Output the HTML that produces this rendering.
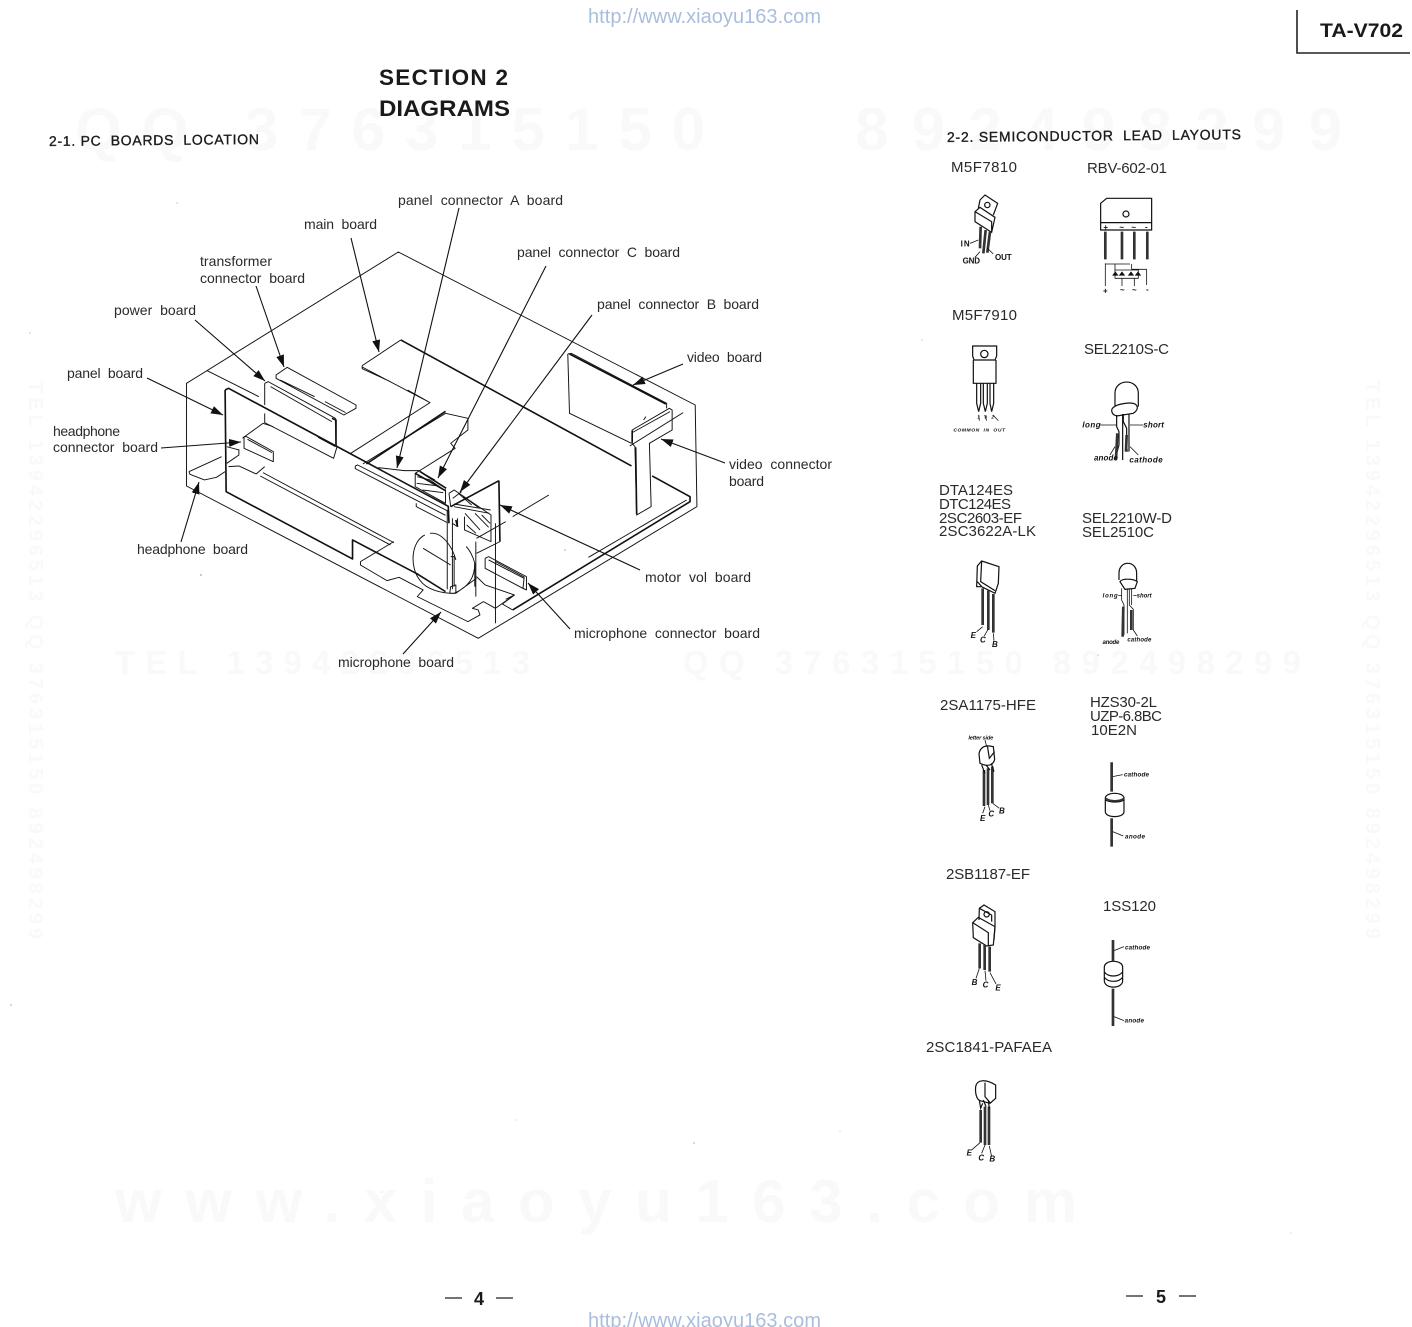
<!DOCTYPE html>
<html><head><meta charset="utf-8"><style>
html,body{margin:0;padding:0;background:#fff}
svg{display:block}
text{font-family:"Liberation Sans",sans-serif;fill:#222;white-space:pre}
.wm{font-weight:bold;fill:#f9f9f9}
.l{font-size:14px;fill:#2a2a2a}
.p{font-size:15px;fill:#2a2a2a}
.h{font-weight:bold;fill:#1a1a1a}
.u{font-size:20px;fill:#a9bedd}
.t{font-size:24px;font-weight:bold;font-style:italic;fill:#111}
.a line{stroke:#111;stroke-width:1.1;marker-end:url(#ar)}
.d path{fill:none;stroke:#111;stroke-width:2.8;stroke-linejoin:round}
.d .k{stroke-width:4.8}
.d .n{stroke-width:2.2}
.c path,.c ellipse,.c circle,.c rect{fill:none;stroke:#111;stroke-width:3.6}
.c .k{stroke-width:8;stroke:#333}
.c .n{stroke-width:2.4}
.b{filter:blur(.3px)}
</style></head><body>
<svg xmlns="http://www.w3.org/2000/svg" width="1412" height="1327" viewBox="0 0 1412 1327">
<defs><marker id="ar" markerUnits="userSpaceOnUse" markerWidth="14" markerHeight="10" refX="12" refY="4" orient="auto"><path d="M0,0 L12,4 L0,8 Z" fill="#111"/></marker></defs>
<rect width="1412" height="1327" fill="#fff"/>

<!-- watermarks -->
<text class="wm" x="75" y="150" font-size="60" textLength="630">QQ 376315150</text>
<text class="wm" x="855" y="150" font-size="60" textLength="487">892498299</text>
<text class="wm" x="115" y="674" font-size="33" textLength="415">TEL 13942296513</text>
<text class="wm" x="683" y="674" font-size="33" textLength="618">QQ 376315150 892498299</text>
<text class="wm" x="115" y="1222" font-size="60" textLength="962">www.xiaoyu163.com</text>
<text class="wm" transform="translate(29,381) rotate(90)" font-size="20" textLength="558">TEL 13942296513 QQ 376315150 892498299</text>
<text class="wm" transform="translate(1366,381) rotate(90)" font-size="20" textLength="558">TEL 13942296513 QQ 376315150 892498299</text>

<text class="u" x="588" y="23" textLength="233">http://www.xiaoyu163.com</text>
<text class="u" x="588" y="1327" textLength="233">http://www.xiaoyu163.com</text>

<path d="M1297,10 V53 H1410" fill="none" stroke="#222" stroke-width="1.6"/>
<text class="h" x="1320" y="37" font-size="19" textLength="83" lengthAdjust="spacingAndGlyphs">TA-V702</text>
<text class="h" x="379" y="85" font-size="22.5" textLength="129">SECTION 2</text>
<text class="h" x="379" y="116" font-size="22.5" textLength="131" lengthAdjust="spacingAndGlyphs">DIAGRAMS</text>
<text class="h" style="font-weight:normal;stroke:#222;stroke-width:.35" font-size="14" transform="translate(49,146) rotate(-.55)" textLength="210">2-1. PC  BOARDS  LOCATION</text>
<text class="h" style="font-weight:normal;stroke:#222;stroke-width:.35" font-size="14" transform="translate(947,142) rotate(-.55)" textLength="294">2-2. SEMICONDUCTOR  LEAD  LAYOUTS</text>

<!-- leader labels -->
<text class="l" x="398" y="205" textLength="165">panel  connector  A  board</text>
<text class="l" x="304" y="229" textLength="73">main  board</text>
<text class="l" x="517" y="257" textLength="163">panel  connector  C  board</text>
<text class="l" x="200" y="266" textLength="72">transformer</text>
<text class="l" x="200" y="283" textLength="105">connector  board</text>
<text class="l" x="114" y="315" textLength="82">power  board</text>
<text class="l" x="597" y="309" textLength="162">panel  connector  B  board</text>
<text class="l" x="687" y="362" textLength="75">video  board</text>
<text class="l" x="67" y="378" textLength="76">panel  board</text>
<text class="l" x="53" y="436" textLength="67">headphone</text>
<text class="l" x="53" y="452" textLength="105">connector  board</text>
<text class="l" x="729" y="469" textLength="103">video  connector</text>
<text class="l" x="729" y="486" textLength="35">board</text>
<text class="l" x="137" y="554" textLength="111">headphone  board</text>
<text class="l" x="645" y="582" textLength="106">motor  vol  board</text>
<text class="l" x="574" y="638" textLength="186">microphone  connector  board</text>
<text class="l" x="338" y="667" textLength="116">microphone  board</text>

<!-- main drawing, coordinates in crop space -->
<g class="d b" transform="translate(170,240) scale(.3444,.3333)">
<!-- outer cabinet -->
<path d="M48,430 L663,36 L1525,495 L1530,800 L895,1195 L48,738 Z M108,392 L258,470"/>
<!-- main board -->
<path class="k" d="M670,300 L1340,678 M1400,708 L1510,770 L1510,785 L995,1110"/>
<path d="M558,377 L670,300 M558,377 L558,386 L640,425 M690,450 L755,488 M558,381 L755,488 L525,640 M995,1110 L965,1092 L1000,1065 L975,1078 M1215,952 L1500,780"/>
<!-- video board -->
<path d="M1155,342 L1160,520 L1340,610"/>
<path class="k" d="M1160,342 L1440,492"/>
<path d="M1155,342 L1165,340 L1442,490 L1442,505"/>
<!-- video connector board -->
<path d="M1342,570 L1450,505 L1458,510 L1458,570 L1392,610 L1397,800 L1355,825 L1350,620 L1342,610 Z M1342,578 L1452,515 M1335,618 L1490,518 M1375,540 L1382,530"/>
<path class="k" d="M1342,572 L1342,608 M1352,622 L1355,822"/>
<!-- panel board -->
<path class="k" d="M160,450 L170,445 L810,800 M160,450 L163,755 L530,957 L530,900 L720,1003"/>
<path d="M170,680 L200,678 L250,702 L275,680 M270,698 L650,908 M262,708 L640,915 M200,630 L165,620 M200,628 L200,645 L165,670"/>
<!-- power board -->
<path d="M275,430 L285,425 L480,535 L482,620 M275,430 L275,495 M275,520 L275,548 L475,655 L485,620 M292,440 L470,545"/>
<path class="k" d="M470,535 L482,540 L482,620"/>
<!-- transformer connector -->
<path d="M308,405 L340,382 L540,495 L540,505 L505,525 L308,415 Z M320,420 L420,470 M450,485 L510,518"/>
<!-- headphone connector + board -->
<path d="M215,590 L222,590 L300,635 L300,665 L215,625 Z M225,598 L296,638 M210,595 L270,550 L300,560 M55,695 L150,650 M55,695 L58,703 L100,720 L135,712 L160,695"/>
<!-- panel connector C -->
<path class="k" d="M570,672 L800,514"/>
<path d="M560,672 L800,520 L865,535 L865,570 L815,610 L828,625 L725,692 M430,592 L480,620"/>
<!-- panel connector A wedge -->
<path class="k" d="M725,694 L802,745 M712,700 L800,752"/>
<path d="M605,683 L680,692 L725,692 L712,700 L712,740 L800,790 L800,748"/>
<path d="M538,678 L545,675 L810,815 M538,678 L538,686 L800,826 M715,790 L715,800 L805,848"/>
<!-- panel connector B -->
<path class="k" d="M815,800 L955,722 M955,722 L958,905"/>
<path d="M810,760 L825,750 L932,825 L932,905 L855,870 L855,830 M810,760 L815,800 M958,905 L890,940"/>
<!-- shaft -->
<path d="M805,810 L805,1048 M820,835 L820,1048 M835,835 L835,860 L820,850 M815,950 L825,950 L825,1040 M815,1040 L830,1035 L830,1060 L812,1060 Z M888,905 L888,1070 M945,850 L945,1150 M1100,765 L995,830 M975,845 L890,895 M885,970 L885,1040"/>
<path class="k" d="M808,800 L810,850 M830,840 L835,860"/>
<!-- motor -->
<path d="M740,885 C700,905 695,980 725,1020 C745,1050 790,1060 825,1060 C870,1040 885,1010 885,970 C880,950 870,930 860,920 M755,880 C790,875 820,920 830,960 M735,925 L815,975 M890,1010 L915,1035 L1000,1065 M830,1060 L890,1015"/>
<path class="k" d="M715,1000 L800,1055"/>
<!-- microphone board -->
<path d="M553,965 L650,905 M553,965 L553,975 L630,1022 L665,1012 L735,1050 L718,1070 L865,1145 L900,1125 L895,1110 L878,1105 L910,1085 L945,1105 L1000,1065"/>
<!-- microphone connector -->
<path d="M915,955 L925,950 L1035,1010 L1035,1050 L1025,1045 L1028,1015 L925,960 M915,955 L915,985 L1030,1048 M945,965 L1030,1012"/>
</g>

<!-- hatching, fine crop coordinates -->
<g class="d b" transform="translate(380,430) scale(.3333)">
<path d="M112,140 L150,150 M110,160 L178,168 M128,180 L190,188 M150,150 L190,178 M120,125 L165,150"/>
<path d="M222,222 L332,240 M222,230 L328,250 M218,205 L245,185 M235,190 L275,225 M250,200 L295,232 M255,250 L300,300 M260,285 L288,310 M285,250 L326,292 M305,255 L330,280"/>
</g>

<!-- leaders -->
<g class="a">
<line x1="351" y1="238" x2="379" y2="352"/>
<line x1="459" y1="208" x2="397" y2="468"/>
<line x1="546" y1="266" x2="438" y2="478"/>
<line x1="592" y1="315" x2="460" y2="492"/>
<line x1="683" y1="364" x2="633" y2="385"/>
<line x1="725" y1="463" x2="661" y2="439"/>
<line x1="256" y1="286" x2="284" y2="367"/>
<line x1="195" y1="320" x2="265" y2="381"/>
<line x1="147" y1="378" x2="223" y2="415"/>
<line x1="161" y1="448" x2="241" y2="442"/>
<line x1="181" y1="542" x2="199" y2="482"/>
<line x1="640" y1="570" x2="500" y2="505"/>
<line x1="570" y1="629" x2="528" y2="583"/>
<line x1="403" y1="654" x2="441" y2="612"/>
</g>

<!-- part names -->
<text class="p" x="951" y="172" textLength="66">M5F7810</text>
<text class="p" x="1087" y="173" textLength="80">RBV-602-01</text>
<text class="p" x="952" y="320" textLength="65">M5F7910</text>
<text class="p" x="1084" y="354" textLength="85">SEL2210S-C</text>
<text class="p" x="939" y="495" textLength="74">DTA124ES</text>
<text class="p" x="939" y="509" textLength="72">DTC124ES</text>
<text class="p" x="939" y="523" textLength="83">2SC2603-EF</text>
<text class="p" x="939" y="536" textLength="97">2SC3622A-LK</text>
<text class="p" x="1082" y="523" textLength="90">SEL2210W-D</text>
<text class="p" x="1082" y="537" textLength="72">SEL2510C</text>
<text class="p" x="940" y="710" textLength="96">2SA1175-HFE</text>
<text class="p" x="1090" y="707" textLength="67">HZS30-2L</text>
<text class="p" x="1090" y="721" textLength="72">UZP-6.8BC</text>
<text class="p" x="1091" y="735" textLength="46">10E2N</text>
<text class="p" x="946" y="879" textLength="84">2SB1187-EF</text>
<text class="p" x="1103" y="911" textLength="53">1SS120</text>
<text class="p" x="926" y="1052" textLength="126">2SC1841-PAFAEA</text>

<!-- components group 1 -->
<g class="c b" transform="translate(930,180) scale(.3333)">
<!-- M5F7810 -->
<path d="M150,60 L165,45 L203,70 L190,105 M150,60 L145,85"/><circle cx="172" cy="75" r="8"/>
<path d="M135,95 L150,82 L195,112 L185,157 L135,125 Z M135,95 L185,125 L185,157"/>
<path class="k" d="M152,140 L150,205 M167,150 L160,220 M180,155 L172,218"/>
<path class="n" d="M120,190 L145,180 M150,215 L135,232 M172,205 L190,222"/>
<text class="t" x="92" y="200" style="font-style:normal" textLength="27">IN</text>
<text class="t" x="98" y="250" style="font-style:normal" textLength="52">GND</text>
<text class="t" x="195" y="240" style="font-style:normal" textLength="50">OUT</text>
<!-- RBV -->
<path d="M512,70 L530,55 H665 V150 H512 Z M512,128 H665"/><circle cx="588" cy="102" r="9"/>
<text class="t" x="520" y="150" style="font-style:normal" textLength="14">+</text>
<text class="t" x="568" y="150" style="font-style:normal" textLength="16">~</text>
<text class="t" x="604" y="150" style="font-style:normal" textLength="16">~</text>
<text class="t" x="645" y="148" style="font-style:normal" textLength="10">-</text>
<path class="k" d="M526,155 V238 M576,155 V238 M613,155 V238 M652,155 V238"/>
<path class="n" d="M526,250 V318 M526,252 H600 M555,252 V295 M650,268 V315 M605,268 H650 M576,295 V318 M613,295 V318 M555,270 H625 V295 H555 M605,252 V270"/>
<path d="M550,285 h12 l-6,-8 Z M570,285 h12 l-6,-8 Z M597,285 h12 l-6,-8 Z M618,285 h12 l-6,-8 Z" style="fill:#111"/>
<text class="t" x="519" y="340" style="font-style:normal" textLength="15">+</text>
<text class="t" x="570" y="338" style="font-style:normal" textLength="15">~</text>
<text class="t" x="606" y="338" style="font-style:normal" textLength="15">~</text>
<text class="t" x="648" y="336" style="font-style:normal" textLength="8">-</text>
<!-- M5F7910 -->
<path d="M128,498 H200 V528 L195,540 H132 L128,528 Z M130,540 V610 H198 V540"/><circle cx="163" cy="522" r="11"/>
<path d="M140,610 V670 L146,695 L152,670 V610 M160,610 V670 L166,695 L172,670 V610 M180,610 V670 L185,695 L191,670 V610"/>
<path class="n" d="M146,705 L148,722 M164,705 L170,722 M189,705 L205,722"/>
<text x="70" y="755" font-size="15" font-weight="bold" font-style="italic" textLength="155" style="fill:#111">COMMON  IN  OUT</text>
<text x="142" y="715" font-size="14" font-weight="bold" font-style="italic" textLength="50" style="fill:#111">1 3 2</text>
<!-- SEL2210S -->
<path d="M555,680 V640 C555,595 625,595 625,640 V680 M545,690 C550,672 600,665 615,672 C625,678 625,690 610,700 L560,708 C548,705 545,698 545,690 Z"/>
<path d="M560,705 V740 L567,755 V795 L555,840 M578,702 V840 M580,702 V725 L590,745 V800 L592,815 M597,702 V815"/>
<path class="k" d="M562,760 L558,838 M590,765 L588,815"/>
<path class="n" d="M508,735 H560 M640,735 H600 M555,800 L540,825 M600,800 L625,825"/>
<text class="t" x="457" y="742" textLength="55">long</text>
<text class="t" x="640" y="742" textLength="62">short</text>
<text class="t" x="492" y="842" textLength="72">anode</text>
<text class="t" x="598" y="848" textLength="100">cathode</text>
</g>

<!-- components group 2 -->
<g class="c b" transform="translate(930,550) scale(.3333)">
<!-- DTA -->
<path d="M140,110 L142,48 L155,33 L207,50 L205,100 L195,130 L155,110 Z M155,33 L152,95 L195,122 M142,95 L155,110"/>
<path class="k" d="M158,115 L158,225 M175,122 L175,240 M190,132 L190,248"/>
<path class="n" d="M158,230 L140,245 M173,240 L163,258 M190,250 L192,272"/>
<text class="t" x="122" y="264" textLength="14">E</text>
<text class="t" x="150" y="278" textLength="15">C</text>
<text class="t" x="186" y="291" textLength="14">B</text>
<!-- SEL2510 -->
<path d="M567,90 V70 C567,30 620,30 620,70 V95 M570,95 C575,85 610,85 622,95 L615,115 L585,118 Z"/>
<path class="n" d="M575,115 V150 L582,165 V255 M592,115 V250 M598,115 V165 L610,178 V240 L622,258 M605,115 V165"/>
<path class="k" d="M580,170 L578,260 M604,180 V240"/>
<path class="n" d="M565,137 H575 M610,137 H620"/>
<text class="t" x="518" y="143" style="font-size:18px" textLength="45">long</text>
<text class="t" x="620" y="143" style="font-size:18px" textLength="45">short</text>
<text class="t" x="518" y="282" style="font-size:18px" textLength="50">anode</text>
<text class="t" x="592" y="275" style="font-size:18px" textLength="72">cathode</text>
<!-- 2SA1175 -->
<path d="M147,612 C150,592 165,583 190,590 L194,628 C190,645 175,652 150,640 Z M172,586 L178,625 L194,605"/>
<text class="t" x="115" y="568" style="font-size:17px" textLength="75">letter side</text>
<path class="n" d="M165,570 L170,590"/>
<path class="k" d="M162,660 V768 M174,655 V765 M187,650 V760"/>
<path d="M155,645 L165,670 M168,645 L180,660 M184,640 L192,665"/>
<path class="n" d="M165,770 L158,790 M175,765 L180,782 M188,760 L208,775"/>
<text class="t" x="150" y="813" textLength="13">E</text>
<text class="t" x="175" y="799" textLength="14">C</text>
<text class="t" x="207" y="790" textLength="13">B</text>
<!-- HZS30 -->
<path d="M526,745 C526,725 582,725 582,745 V785 C582,805 526,805 526,785 Z M526,750 C540,758 570,758 582,750"/>
<path class="k" d="M545,637 V725 M545,805 V890"/>
<path class="k" style="stroke-width:5" d="M527,745 C540,755 570,755 582,745"/>
<path class="n" d="M548,680 L578,674 M548,845 L580,858"/>
<text class="t" x="582" y="680" style="font-size:19px" textLength="75">cathode</text>
<text class="t" x="585" y="865" style="font-size:19px" textLength="60">anode</text>
</g>

<!-- components group 3 -->
<g class="c b" transform="translate(930,890) scale(.3333)">
<!-- 2SB1187 -->
<path d="M147,90 L148,55 L162,45 L195,65 L195,110 L192,150 M148,55 L185,75 M185,75 L185,95"/><circle cx="170" cy="73" r="8"/>
<path d="M128,98 L145,82 L195,110 L190,165 L170,168 L130,143 Z M128,98 L175,128 L175,168"/>
<path class="k" d="M149,160 V235 M164,165 V240 M179,170 V245"/>
<path class="n" d="M148,235 L138,265 M165,242 L168,272 M180,248 L198,282"/>
<text class="t" x="125" y="285" textLength="14">B</text>
<text class="t" x="158" y="293" textLength="14">C</text>
<text class="t" x="196" y="302" textLength="13">E</text>
<!-- 1SS120 -->
<path d="M523,232 C523,208 578,208 578,232 V272 C578,298 523,298 523,272 Z M523,246 C535,262 565,262 578,246 M523,262 C535,278 565,278 578,262"/>
<path class="k" d="M549,150 V215 M549,296 V408"/>
<path class="n" d="M552,182 L582,170 M552,380 L582,392"/>
<text class="t" x="585" y="178" style="font-size:19px" textLength="75">cathode</text>
<text class="t" x="584" y="398" style="font-size:19px" textLength="58">anode</text>
<!-- 2SC1841 -->
<path d="M137,590 C140,570 165,565 197,585 V625 L180,640 L150,632 C140,628 135,610 137,590 Z M165,578 V620 L180,638"/>
<path class="k" d="M152,660 V758 M165,650 V765 M177,650 V765"/>
<path d="M148,630 L152,655 L158,640 M160,630 L168,650 M175,630 L178,655"/>
<path class="n" d="M150,758 L125,780 M165,765 L155,790 M178,768 L185,800"/>
<text class="t" x="110" y="797" textLength="13">E</text>
<text class="t" x="145" y="812" textLength="14">C</text>
<text class="t" x="178" y="815" textLength="13">B</text>
</g>

<!-- page numbers -->
<path d="M445,1298 H462 M496,1298 H513 M1126,1296 H1143 M1179,1296 H1196" stroke="#222" stroke-width="1.2"/>
<text class="h" x="474" y="1305" font-size="18" textLength="10">4</text>
<text class="h" x="1156" y="1303" font-size="18" textLength="10">5</text>

<!-- specks -->
<g fill="#777">
<circle cx="177" cy="203" r=".5"/><circle cx="201" cy="575" r=".7"/><circle cx="565" cy="550" r=".6"/><circle cx="922" cy="340" r=".5"/><circle cx="30" cy="333" r=".5"/><circle cx="11" cy="1005" r=".6"/><circle cx="694" cy="1143" r=".6"/><circle cx="516" cy="1120" r=".4"/><circle cx="840" cy="1131" r=".4"/><circle cx="382" cy="1192" r=".4"/><circle cx="1291" cy="1233" r=".4"/><circle cx="1098" cy="655" r=".5"/>
</g>
</svg>
</body></html>
